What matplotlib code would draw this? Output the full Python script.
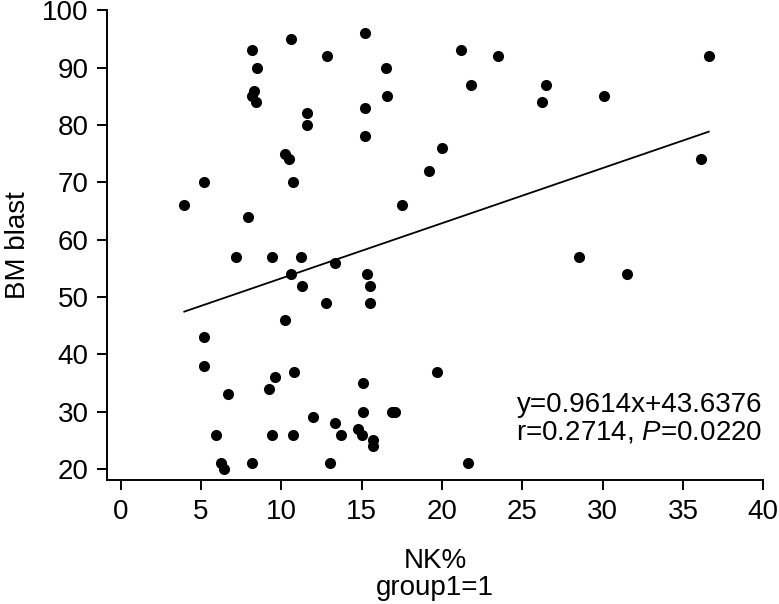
import matplotlib
matplotlib.use("Agg")
import matplotlib.pyplot as plt
import numpy as np

plt.rcParams['font.family'] = ['Liberation Sans', 'DejaVu Sans']
plt.rcParams['mathtext.fontset'] = 'custom'
plt.rcParams['mathtext.it'] = 'Liberation Sans:italic'
plt.rcParams['mathtext.rm'] = 'Liberation Sans'

nk_pct = [8.2, 10.6, 12.85, 15.2, 8.5, 16.5, 8.3, 8.2, 8.4, 16.6,
          11.6, 11.6, 15.2, 15.2, 20.0, 19.2, 10.2, 10.5, 10.7, 5.2,
          3.96, 7.9, 17.5, 21.2, 23.5, 21.8, 26.5, 26.2, 30.1, 36.6,
          36.1, 7.2, 9.4, 11.2, 13.35, 10.6, 15.3, 11.3, 15.5, 12.8,
          15.5, 10.2, 5.16, 5.16, 10.8, 9.6, 9.25, 15.1, 19.7, 6.7,
          15.1, 16.9, 17.1, 11.96, 13.35, 14.8, 15.0, 13.7, 5.95, 9.4,
          10.7, 15.7, 15.7, 6.26, 6.4, 8.2, 13.0, 28.5, 31.5, 21.6]
bm_blast = [93, 95, 92, 96, 90, 90, 86, 85, 84, 85,
            82, 80, 83, 78, 76, 72, 75, 74, 70, 70,
            66, 64, 66, 93, 92, 87, 87, 84, 85, 92,
            74, 57, 57, 57, 56, 54, 54, 52, 52, 49,
            49, 46, 43, 38, 37, 36, 34, 35, 37, 33,
            30, 30, 30, 29, 28, 27, 26, 26, 26, 26,
            26, 25, 24, 21, 20, 21, 21, 57, 54, 21]

slope = 0.9614
intercept = 43.6376
eq_label = "y=0.9614x+43.6376"
stat_label = r"r=0.2714, $\mathit{P}$=0.0220"
x_ticks = [0, 5, 10, 15, 20, 25, 30, 35, 40]
y_ticks = [20, 30, 40, 50, 60, 70, 80, 90, 100]

fig = plt.figure(figsize=(7.79, 6.04), dpi=100)
ax = fig.add_axes([0.1377, 0.2053, 0.8422, 0.7777])

ax.plot(nk_pct, bm_blast, 'o', color='black', markersize=8, markeredgewidth=0)
xl = np.array([min(nk_pct), max(nk_pct)])
ax.plot(xl, slope * xl + intercept, color='black', linewidth=1.3)

ax.set_xlim(-0.835, 40)
ax.set_ylim(18.08, 100)
ax.set_xticks(x_ticks)
ax.set_yticks(y_ticks)
ax.spines['top'].set_visible(False)
ax.spines['right'].set_visible(False)
for s in ['left', 'bottom']:
    ax.spines[s].set_linewidth(1.4)
ax.tick_params(axis='both', length=7.5, width=1.4, labelsize=20, color='black')
ax.tick_params(axis='x', pad=6)
ax.tick_params(axis='y', pad=6)

ax.set_ylabel("BM blast", fontsize=20, labelpad=8)
ax.set_xlabel("NK%\ngroup1=1", fontsize=20, labelpad=17, linespacing=1.05)

ax.text(0.999, 0.1454, eq_label, transform=ax.transAxes, ha='right', va='baseline', fontsize=20)
ax.text(0.999, 0.0867, stat_label, transform=ax.transAxes, ha='right', va='baseline', fontsize=20)

fig.savefig("out.png", dpi=100)
